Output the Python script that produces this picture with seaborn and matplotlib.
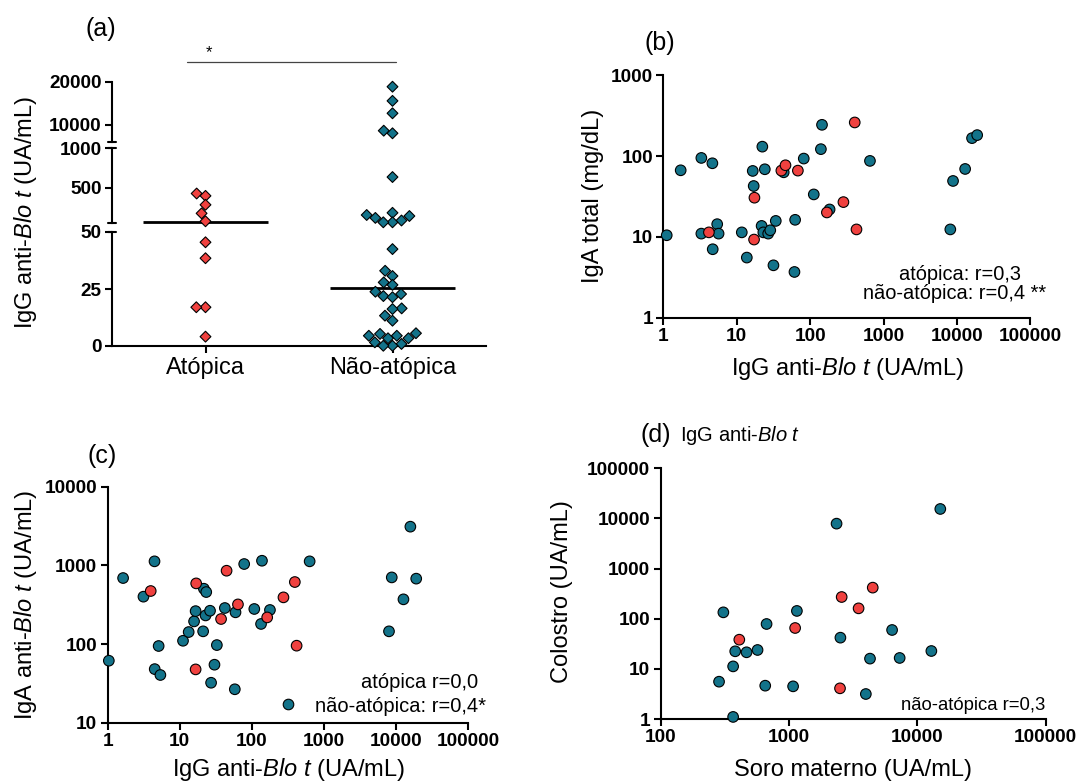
import numpy as np
import pandas as pd
import matplotlib
matplotlib.use("Agg")
import matplotlib.pyplot as plt
import matplotlib.transforms as mtrans
from matplotlib.lines import Line2D
from matplotlib.ticker import NullLocator
import seaborn as sns

sns.set_theme(style="ticks")
plt.rcParams["font.family"] = ["Liberation Sans", "DejaVu Sans"]
plt.rcParams["mathtext.fontset"] = "custom"
plt.rcParams["mathtext.rm"] = "Liberation Sans"
plt.rcParams["mathtext.it"] = "Liberation Sans:italic"
for k in ["text.color", "axes.labelcolor", "xtick.color", "ytick.color",
          "xtick.labelcolor", "ytick.labelcolor", "axes.edgecolor"]:
    plt.rcParams[k] = "black"

RED = "#F0413F"
TEAL = "#13738A"

# ---------------- data ----------------
# (a) IgG anti-Blo t (UA/mL) by group
cats = ["Atópica", "Não-atópica"]
a_atopica = [426, 396, 282, 173, 72, 45.5, 38.5, 17.0, 17.0, 4.1]
a_nao_atopica = [18900, 15600, 12700, 8640, 8030, 636, 180, 152, 139, 115, 82,
                 59, 59, 42.5, 33.0, 30.7, 27.9, 26.8, 23.8, 22.8, 21.9, 21.4,
                 16.5, 16.2, 13.3, 11.1, 5.6, 5.3, 4.5, 4.5, 3.4, 3.4, 1.6, 0.9,
                 0.1, 0.1]
a_yticks = [0, 25, 50, 500, 1000, 10000, 20000]

# (b) IgG anti-Blo t (x) vs IgA total (y)
b_nao_x = [1.11, 1.72, 3.29, 3.29, 4.65, 4.7, 5.41, 5.65, 11.7, 13.7, 16.5, 17.0,
           22.3, 21.8, 23.0, 24.1, 26.8, 28.6, 31.6, 34.0, 43.6, 61.1, 62.4, 81.8,
           112, 140, 145, 184, 653, 8128, 8854, 12944, 16065, 18884]
b_nao_y = [10.5, 66.8, 95, 11.0, 81.6, 7.05, 14.4, 11.0, 11.4, 5.56, 65.6, 42.7,
           131, 13.7, 11.4, 68.8, 11.0, 12.1, 4.46, 15.8, 63.1, 3.69, 16.3, 93.3,
           33.6, 122, 244, 21.9, 87.3, 12.4, 49.3, 69.4, 167, 182]
b_at_x = [4.17, 17.2, 17.4, 40.5, 46.1, 68.0, 169, 284, 405, 428]
b_at_y = [11.4, 9.29, 30.6, 66.2, 77.1, 66.2, 20.1, 27.0, 261, 12.4]

# (c) IgG anti-Blo t (x) vs IgA anti-Blo t (y)
c_nao_x = [1.04, 1.64, 3.14, 4.47, 4.5, 5.1, 5.39, 11.1, 13.3, 15.8, 16.6, 21.1,
           21.6, 22.8, 23.3, 26.3, 27.2, 30.3, 32.7, 42.2, 58, 59.3, 78.2, 108,
           134, 138, 178, 632, 7955, 8690, 12620, 15740, 18970]
c_nao_y = [61.4, 690, 400, 1125, 48, 94.4, 40.4, 110, 142, 194, 262, 145, 505,
           231, 458, 265, 32.2, 54.6, 97, 287, 26.6, 253, 1040, 279, 180, 1145,
           271, 1125, 145, 703, 370, 3104, 678]
c_at_x = [3.96, 16.6, 16.9, 37.4, 44.6, 64.1, 163, 274, 394, 417]
c_at_y = [472, 47.6, 590, 208, 855, 319, 218, 392, 614, 95.3]

# (d) Soro materno (x) vs Colostro (y)
d_nao_x = [285, 308, 367, 367, 381, 467, 569, 653, 669, 1077, 1153, 2350, 2518,
           3975, 4283, 6368, 7295, 12886, 15130]
d_nao_y = [5.55, 134, 11.2, 1.10, 22.4, 21.4, 23.8, 4.62, 78.5, 4.48, 143, 7875,
           41.9, 3.15, 16.0, 59.6, 16.5, 22.7, 15450]
d_at_x = [410, 1117, 2500, 2576, 3490, 4499]
d_at_y = [38.2, 65.3, 4.09, 271, 161, 417]

# ---------------- figure ----------------
W, H = 1078, 783
fig = plt.figure(figsize=(W / 100, H / 100), dpi=100)


def rect(l, t, r, b):
    return [l / W, 1 - b / H, (r - l) / W, (b - t) / H]


ax_a = fig.add_axes(rect(112, 82, 486, 346))
ax_b = fig.add_axes(rect(663.4, 75.3, 1030.3, 317.8))
ax_c = fig.add_axes(rect(107.6, 486.7, 468.3, 722.7))
ax_d = fig.add_axes(rect(660.7, 468.3, 1045.5, 719))

TICK_FS = 13.7
LAB_FS = 17
LW = 1.5
blo = r"IgG anti-$\mathit{Blo}$ $\mathit{t}$ (UA/mL)"


def base_style(ax):
    for s in ["top", "right"]:
        ax.spines[s].set_visible(False)
    for s in ["left", "bottom"]:
        ax.spines[s].set_linewidth(LW)
        ax.spines[s].set_color("black")
    ax.tick_params(axis="both", which="major", direction="out", length=5,
                   width=LW, color="black", labelcolor="black", pad=2.5)
    ax.grid(False)
    ax.set_facecolor("none")


def set_label_pos(ax, xlab, ylab, xpos, ypos):
    ax.set_xlabel(xlab, fontsize=LAB_FS, color="black")
    ax.set_ylabel(ylab, fontsize=LAB_FS, color="black")
    ax.xaxis.set_label_coords(*xpos)
    ax.yaxis.set_label_coords(*ypos)
    ax.xaxis.label.set_verticalalignment("center")
    ax.yaxis.label.set_verticalalignment("center")


# ---------------- (a) ----------------
def fwd(v):
    v = np.asarray(v, dtype=float)
    return np.piecewise(
        v,
        [v <= 50, (v > 50) & (v <= 1000), (v > 1000) & (v <= 6000), v > 6000],
        [lambda x: x * 114 / 50,
         lambda x: 123 + (x - 50) * 74.5 / 950,
         lambda x: 197.5 + (x - 1000) * 6.5 / 5000,
         lambda x: 204 + (x - 6000) * 60 / 14000])


def inv(d):
    d = np.asarray(d, dtype=float)
    return np.piecewise(
        d,
        [d <= 114, (d > 114) & (d <= 123), (d > 123) & (d <= 197.5),
         (d > 197.5) & (d <= 204), d > 204],
        [lambda y: y * 50 / 114,
         50.0,
         lambda y: 50 + (y - 123) * 950 / 74.5,
         lambda y: 1000 + (y - 197.5) * 5000 / 6.5,
         lambda y: 6000 + (y - 204) * 14000 / 60])


dfa = pd.DataFrame({
    "grupo": [cats[0]] * len(a_atopica) + [cats[1]] * len(a_nao_atopica),
    "igg": a_atopica + a_nao_atopica,
})
ax_a.set_yscale("function", functions=(fwd, inv))
sns.swarmplot(data=dfa, x="grupo", y="igg", hue="grupo", order=cats,
              hue_order=cats, palette=[RED, TEAL], marker="D", size=5.5,
              edgecolor="black", linewidth=0.8, legend=False, ax=ax_a,
              zorder=5)
for coll in ax_a.collections:
    coll.set_clip_on(False)

for i, vals in enumerate([a_atopica, a_nao_atopica]):
    med = np.median(vals)
    ax_a.plot([i - 0.335, i + 0.335], [med, med], color="black", lw=2.0,
              zorder=3, solid_capstyle="butt")

base_style(ax_a)
ax_a.spines["left"].set_visible(False)
ax_a.set_xlim(-0.5, 1.5)
ax_a.set_ylim(0, 20000)
ax_a.set_yticks(a_yticks, labels=[str(t) for t in a_yticks],
                fontsize=TICK_FS, fontweight="bold")
ax_a.yaxis.set_minor_locator(NullLocator())
ax_a.set_xticks([0, 1], labels=cats, fontsize=LAB_FS)
ax_a.tick_params(axis="x", pad=3)

trA = mtrans.blended_transform_factory(ax_a.transAxes, ax_a.transData)
for lo, hi in [(0, 50), (50.0001, 1000), (6000, 20000)]:
    ax_a.plot([0, 0], [lo, hi], transform=trA, color="black", lw=LW,
              clip_on=False, solid_capstyle="projecting")
for v in [50, 50.0001, 1000, 6000]:
    ax_a.plot([-0.0115, 0.0115], [v, v], transform=trA, color="black",
              lw=LW, clip_on=False)

set_label_pos(ax_a, "", blo, (0.5, -0.1), ((25.9 - 112) / 374, 0.504))

trS = mtrans.blended_transform_factory(ax_a.transData, ax_a.transAxes)
ax_a.plot([-0.097, 1.017], [1.077, 1.077], transform=trS, color="#444444",
          lw=0.9, clip_on=False)
ax_a.text(0.016, 1.11, "*", transform=trS, ha="center", va="center",
          fontsize=12, color="black")

# ---------------- scatter panels ----------------
def make_df(nx, ny, ax_, ay_):
    return pd.DataFrame({
        "x": nx + ax_,
        "y": ny + ay_,
        "grupo": ["não-atópica"] * len(nx) + ["atópica"] * len(ax_),
    })


pal = {"não-atópica": TEAL, "atópica": RED}


def scatter_panel(ax, df, xticks, yticks):
    sns.scatterplot(data=df, x="x", y="y", hue="grupo", palette=pal, s=58,
                    edgecolor="black", linewidth=0.8, legend=False, ax=ax,
                    zorder=5, clip_on=False)
    base_style(ax)
    ax.set_xscale("log")
    ax.set_yscale("log")
    ax.set_xlim(xticks[0], xticks[-1])
    ax.set_ylim(yticks[0], yticks[-1])
    ax.set_xticks(xticks, labels=[str(t) for t in xticks], fontsize=TICK_FS,
                  fontweight="bold")
    ax.set_yticks(yticks, labels=[str(t) for t in yticks], fontsize=TICK_FS,
                  fontweight="bold")
    ax.xaxis.set_minor_locator(NullLocator())
    ax.yaxis.set_minor_locator(NullLocator())


dec5 = [1, 10, 100, 1000, 10000, 100000]

# (b)
scatter_panel(ax_b, make_df(b_nao_x, b_nao_y, b_at_x, b_at_y), dec5,
              [1, 10, 100, 1000])
set_label_pos(ax_b, blo, "IgA total (mg/dL)", (0.503, -0.208), (-0.191, 0.502))

# (c)
scatter_panel(ax_c, make_df(c_nao_x, c_nao_y, c_at_x, c_at_y), dec5,
              [10, 100, 1000, 10000])
set_label_pos(ax_c, blo, r"IgA anti-$\mathit{Blo}$ $\mathit{t}$ (UA/mL)",
              (0.502, -0.2), (-0.2265, 0.499))

# (d)
scatter_panel(ax_d, make_df(d_nao_x, d_nao_y, d_at_x, d_at_y),
              [100, 1000, 10000, 100000], [1, 10, 100, 1000, 10000, 100000])
set_label_pos(ax_d, "Soro materno (UA/mL)", "Colostro (UA/mL)",
              (0.5008, -0.2034), (-0.2555, 0.508))

# ---------------- annotations ----------------
def ftext(px, py, s, **kw):
    fig.text(px / W, 1 - py / H, s, color="black", **kw)


ftext(101, 29, "(a)", fontsize=18, ha="center", va="center")
ftext(660, 43.3, "(b)", fontsize=18, ha="center", va="center")
ftext(101.7, 456, "(c)", fontsize=18, ha="center", va="center")
ftext(655.5, 435, "(d)", fontsize=18, ha="center", va="center")
ftext(679.7, 436, r"IgG anti-$\mathit{Blo}$ $\mathit{t}$", fontsize=14.5,
      ha="left", va="center")

ftext(1021.3, 275, "atópica: r=0,3", fontsize=14.4, ha="right", va="center")
ftext(1045.7, 293.3, "não-atópica: r=0,4 **", fontsize=14.4, ha="right",
      va="center")

ftext(478.6, 682, "atópica r=0,0", fontsize=14.5, ha="right", va="center")
handle = Line2D([0], [0], marker="o", linestyle="none", markersize=7.6,
                markerfacecolor=TEAL, markeredgecolor="black",
                markeredgewidth=0.8)
leg = ax_c.legend(handles=[handle], labels=["não-atópica: r=0,4*"],
                  loc="center right", bbox_to_anchor=(486.2 / W, 1 - 706 / H),
                  bbox_transform=fig.transFigure, frameon=False, fontsize=14.5,
                  handlelength=1.0, handletextpad=0.85, borderpad=0,
                  borderaxespad=0, labelcolor="black")

ftext(1045.2, 706, "não-atópica r=0,3", fontsize=13.3, ha="right",
      va="center")

fig.savefig("out.png", dpi=100, facecolor="white")
